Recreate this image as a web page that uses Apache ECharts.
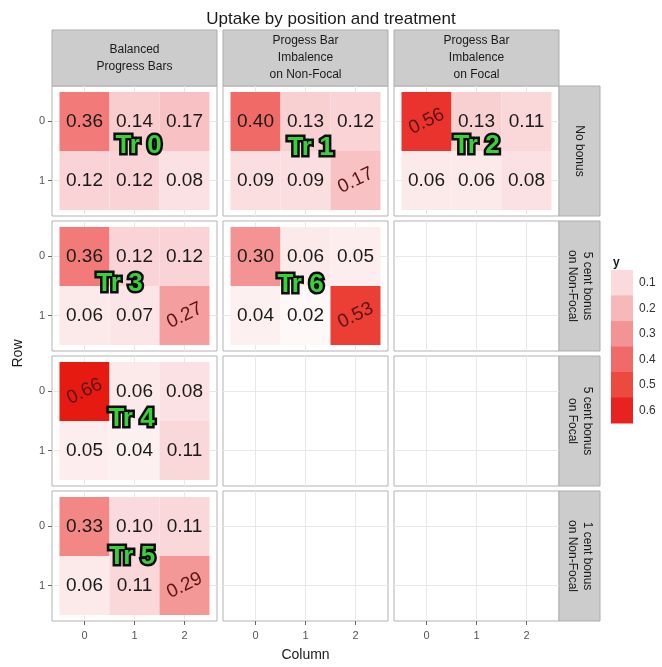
<!DOCTYPE html>
<html lang="en">
<head>
<meta charset="utf-8"/>
<script src="https://cdn.jsdelivr.net/npm/echarts@6/dist/echarts.min.js"></script>
</head>
<body style="margin:0">
<div id="container" style="width:662px;height:667px;"></div>
<script type="text/javascript">
// facet strips
var colStrips = ['Balanced\nProgress Bars', 'Progess Bar\nImbalence\non Non-Focal', 'Progess Bar\nImbalence\non Focal'];
var rowStrips = ['No bonus', '5 cent bonus\non Non-Focal', '5 cent bonus\non Focal', '1 cent bonus\non Non-Focal'];
var columnTicks = [0, 1, 2];
var rowTicks = [0, 1];
var legendBreaks = [0.1, 0.2, 0.3, 0.4, 0.5, 0.6];

// treatments: which facet they sit in, and uptake per cell (row 0 / row 1, columns 0..2)
var trNames = ['Tr 0', 'Tr 1', 'Tr 2', 'Tr 3', 'Tr 4', 'Tr 5', 'Tr 6'];
var trFacetRow = [0, 0, 0, 1, 2, 3, 1];
var trFacetCol = [0, 1, 2, 0, 0, 0, 1];
var uptakeRow0 = [[0.36, 0.14, 0.17], [0.40, 0.13, 0.12], [0.56, 0.13, 0.11], [0.36, 0.12, 0.12], [0.66, 0.06, 0.08], [0.33, 0.10, 0.11], [0.30, 0.06, 0.05]];
var uptakeRow1 = [[0.12, 0.12, 0.08], [0.09, 0.09, 0.17], [0.06, 0.06, 0.08], [0.06, 0.07, 0.27], [0.05, 0.04, 0.11], [0.06, 0.11, 0.29], [0.04, 0.02, 0.53]];
// focal cell [column, row] of each treatment (its label is tilted)
var focalCell = [null, [2, 1], [0, 0], [2, 1], [0, 0], [2, 1], [2, 1]];
// where the "Tr n" tag sits, in column/row units
var trTagAt = [[1.08, 0.42], [1.1, 0.45], [1.0, 0.42], [0.7, 0.46], [0.94, 0.46], [0.95, 0.52], [0.9, 0.48]];

var myChart = echarts.init(document.getElementById('container'));

var panelLeft = [52, 223, 394], panelWidth = 165;
var panelTop = [86, 221, 356, 491], panelHeight = 130;
var stripTop = 30, stripRightW = 41;
var legendLeft = 611, legendTop = 270, keyW = 22, keyH = 25.5;

var colorStops = ['#ffffff', '#fadadc', '#f7b8ba', '#f49393', '#f06a68', '#ec4a3f', '#e8231f', '#e51408'];
var colorMax = 0.7;

var grids = [], xAxes = [], yAxes = [], series = [], graphics = [];

for (var r = 0; r < 4; r++) {
    for (var c = 0; c < 3; c++) {
        var idx = r * 3 + c;
        grids.push({
            left: panelLeft[c], top: panelTop[r], width: panelWidth, height: panelHeight,
            show: true, backgroundColor: '#ffffff', borderColor: '#b3b3b3', borderWidth: 1
        });
        xAxes.push({
            type: 'value', gridIndex: idx, min: -0.65, max: 2.65, position: 'bottom',
            axisLine: {show: false, onZero: false},
            axisTick: {show: r === 3, customValues: columnTicks, length: 4, lineStyle: {color: '#666'}},
            axisLabel: {show: r === 3, customValues: columnTicks, color: '#555', fontSize: 11, margin: 9, fontFamily: 'Liberation Sans'},
            splitLine: {show: true, lineStyle: {color: '#e8e8e8'}}
        });
        yAxes.push({
            type: 'value', gridIndex: idx, min: -0.6, max: 1.6, inverse: true, position: 'left',
            axisLine: {show: false, onZero: false},
            axisTick: {show: c === 0, customValues: rowTicks, length: 4, lineStyle: {color: '#666'}},
            axisLabel: {show: c === 0, customValues: rowTicks, color: '#555', fontSize: 11, margin: 7, fontFamily: 'Liberation Sans'},
            splitLine: {show: true, lineStyle: {color: '#e8e8e8'}}
        });
    }
}

function renderCell(params, api) {
    var x = api.value(0), y = api.value(1), v = api.value(2);
    var focal = api.value(3) === 1;
    var p0 = api.coord([x - 0.5, y - 0.5]);
    var p1 = api.coord([x + 0.5, y + 0.5]);
    var cx = (p0[0] + p1[0]) / 2, cy = (p0[1] + p1[1]) / 2;
    return {
        type: 'group',
        children: [{
            type: 'rect',
            shape: {x: Math.min(p0[0], p1[0]), y: Math.min(p0[1], p1[1]), width: Math.abs(p1[0] - p0[0]), height: Math.abs(p1[1] - p0[1])},
            style: {fill: api.visual('color')}
        }, {
            type: 'text', x: cx, y: cy, rotation: focal ? 0.45 : 0,
            style: {
                text: v.toFixed(2), fill: focal ? '#5a1414' : '#1a1a1a',
                font: '19px "Liberation Sans", Arial', align: 'center', verticalAlign: 'middle'
            }
        }]
    };
}

function renderTag(params, api) {
    var p = api.coord([api.value(0), api.value(1)]);
    return {
        type: 'text', x: p[0], y: p[1], z2: 10,
        style: {
            text: trNames[api.value(2)], fill: '#3ccf3c', stroke: '#0d0d0d', lineWidth: 5, strokeFirst: true,
            font: 'bold 26px "Liberation Sans", Arial', align: 'center', verticalAlign: 'middle',
            shadowBlur: 3, shadowColor: 'rgba(0,0,0,0.6)'
        }
    };
}

var cellSeries = [];
for (var t = 0; t < trNames.length; t++) {
    var fi = trFacetRow[t] * 3 + trFacetCol[t];
    var cells = [];
    [uptakeRow0[t], uptakeRow1[t]].forEach(function (vals, rowIdx) {
        vals.forEach(function (v, colIdx) {
            var f = focalCell[t] && focalCell[t][0] === colIdx && focalCell[t][1] === rowIdx ? 1 : 0;
            cells.push([colIdx, rowIdx, v, f]);
        });
    });
    cellSeries.push(series.length);
    series.push({
        type: 'custom', name: trNames[t], xAxisIndex: fi, yAxisIndex: fi,
        renderItem: renderCell, data: cells, encode: {x: 0, y: 1}, silent: true
    });
    series.push({
        type: 'custom', name: trNames[t] + ' tag', xAxisIndex: fi, yAxisIndex: fi, z: 5,
        renderItem: renderTag, data: [[trTagAt[t][0], trTagAt[t][1], t]], encode: {x: 0, y: 1}, silent: true
    });
}

// strips
colStrips.forEach(function (s, c) {
    graphics.push({type: 'rect', shape: {x: panelLeft[c], y: stripTop, width: panelWidth, height: panelTop[0] - stripTop},
        style: {fill: '#cccccc', stroke: '#adadad', lineWidth: 1}});
    graphics.push({type: 'text', x: panelLeft[c] + panelWidth / 2, y: (stripTop + panelTop[0]) / 2,
        style: {text: s, font: '12px "Liberation Sans", Arial', fill: '#1a1a1a', align: 'center', verticalAlign: 'middle', lineHeight: 17}});
});
rowStrips.forEach(function (s, r) {
    var x0 = panelLeft[2] + panelWidth;
    graphics.push({type: 'rect', shape: {x: x0, y: panelTop[r], width: stripRightW, height: panelHeight},
        style: {fill: '#cccccc', stroke: '#adadad', lineWidth: 1}});
    graphics.push({type: 'text', x: x0 + stripRightW / 2, y: panelTop[r] + panelHeight / 2, rotation: -Math.PI / 2,
        style: {text: s, font: '12px "Liberation Sans", Arial', fill: '#1a1a1a', align: 'center', verticalAlign: 'middle', lineHeight: 15}});
});
graphics.push({type: 'text', x: (panelLeft[0] + panelLeft[2] + panelWidth) / 2, y: 655,
    style: {text: 'Column', font: '14px "Liberation Sans", Arial', fill: '#1a1a1a', align: 'center', verticalAlign: 'middle'}});
graphics.push({type: 'text', x: 18, y: (panelTop[0] + panelTop[3] + panelHeight) / 2, rotation: Math.PI / 2,
    style: {text: 'Row', font: '14px "Liberation Sans", Arial', fill: '#1a1a1a', align: 'center', verticalAlign: 'middle'}});

// colour key (same colour scale as the cells)
graphics.push({type: 'text', x: legendLeft + 2, y: legendTop - 7,
    style: {text: 'y', font: 'bold 12px "Liberation Sans", Arial', fill: '#1a1a1a', align: 'left', verticalAlign: 'middle'}});
legendBreaks.forEach(function (b, i) {
    graphics.push({type: 'rect', shape: {x: legendLeft, y: legendTop + i * keyH, width: keyW, height: keyH + 0.5},
        style: {fill: echarts.color.lerp(b / colorMax, colorStops)}});
    graphics.push({type: 'text', x: legendLeft + keyW + 6, y: legendTop + (i + 0.5) * keyH,
        style: {text: b.toFixed(1), font: '12px "Liberation Sans", Arial', fill: '#333', align: 'left', verticalAlign: 'middle'}});
});

var option = {
    backgroundColor: '#ffffff',
    animation: false,
    title: {
        text: 'Uptake by position and treatment', left: 326, top: 6, textAlign: 'center',
        textStyle: {fontSize: 17, fontWeight: 'normal', color: '#1a1a1a', fontFamily: 'Liberation Sans'}
    },
    grid: grids,
    xAxis: xAxes,
    yAxis: yAxes,
    visualMap: [{
        type: 'continuous', show: false, min: 0, max: colorMax, dimension: 2,
        seriesIndex: cellSeries, inRange: {color: colorStops}
    }],
    graphic: graphics,
    series: series
};

myChart.setOption(option);
</script>
</body>
</html>
